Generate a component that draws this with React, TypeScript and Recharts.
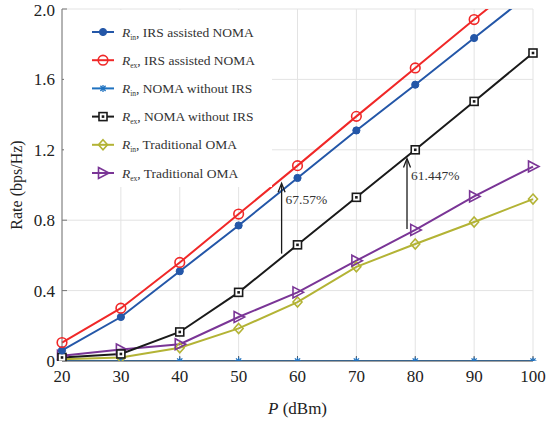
import React from "react";
import {
  LineChart,
  Line,
  XAxis,
  YAxis,
  CartesianGrid,
  Legend,
  ReferenceLine,
} from "recharts";

const powers = [20, 30, 40, 50, 60, 70, 80, 90, 100];
const rInIrsNoma = [0.06, 0.25, 0.51, 0.77, 1.04, 1.31, 1.57, 1.835, 2.1];
const rExIrsNoma = [0.105, 0.3, 0.56, 0.835, 1.11, 1.39, 1.665, 1.94, 2.21];
const rInNoIrs = [0, 0, 0, 0, 0, 0, 0, 0, 0];
const rExNoIrs = [0.02, 0.04, 0.165, 0.39, 0.66, 0.93, 1.2, 1.475, 1.75];
const rInOma = [0.01, 0.02, 0.075, 0.185, 0.335, 0.535, 0.665, 0.79, 0.92];
const rExOma = [0.03, 0.065, 0.095, 0.25, 0.39, 0.57, 0.745, 0.935, 1.105];

const xTicks = [20, 30, 40, 50, 60, 70, 80, 90, 100];
const yTicks = [0, 0.4, 0.8, 1.2, 1.6, 2.0];

// arrows for the gain annotations: [x, yFrom, yTo, label]
const arrows: [number, number, number, string][] = [
  [57.3, 0.61, 1.01, "67.57%"],
  [78.6, 0.75, 1.15, "61.447%"],
];

const data = powers.map((p, i) => ({
  p,
  inIrs: rInIrsNoma[i],
  exIrs: rExIrsNoma[i],
  inNo: rInNoIrs[i],
  exNo: rExNoIrs[i],
  inOma: rInOma[i],
  exOma: rExOma[i],
}));

const FONT = "'Liberation Serif', 'Times New Roman', serif";

type Kind = "dot" | "circle" | "star" | "square" | "diamond" | "tri";

const Marker = ({ kind, cx, cy, color }: { kind: Kind; cx: number; cy: number; color: string }) => {
  switch (kind) {
    case "dot":
      return <circle cx={cx} cy={cy} r={3.6} fill={color} stroke={color} />;
    case "circle":
      return <circle cx={cx} cy={cy} r={4.8} fill="none" stroke={color} strokeWidth={1.6} />;
    case "star":
      return (
        <g stroke={color} strokeWidth={1.3}>
          <line x1={cx - 3.5} y1={cy} x2={cx + 3.5} y2={cy} />
          <line x1={cx} y1={cy - 3.5} x2={cx} y2={cy + 3.5} />
          <line x1={cx - 2.6} y1={cy - 2.6} x2={cx + 2.6} y2={cy + 2.6} />
          <line x1={cx - 2.6} y1={cy + 2.6} x2={cx + 2.6} y2={cy - 2.6} />
        </g>
      );
    case "square":
      return (
        <g>
          <rect x={cx - 4} y={cy - 4} width={8} height={8} fill="#fff" stroke={color} strokeWidth={1.6} />
          <rect x={cx - 1.3} y={cy - 1.3} width={2.6} height={2.6} fill={color} />
        </g>
      );
    case "diamond":
      return (
        <path
          d={`M${cx},${cy - 5}L${cx + 4.5},${cy}L${cx},${cy + 5}L${cx - 4.5},${cy}Z`}
          fill="none"
          stroke={color}
          strokeWidth={1.6}
        />
      );
    case "tri":
      return (
        <path
          d={`M${cx - 4.5},${cy - 5.5}L${cx + 6},${cy}L${cx - 4.5},${cy + 5.5}Z`}
          fill="none"
          stroke={color}
          strokeWidth={1.6}
        />
      );
  }
  return null;
};

const series: { key: string; color: string; kind: Kind; sub: string; name: string }[] = [
  { key: "inIrs", color: "#2457a8", kind: "dot", sub: "in", name: ", IRS assisted NOMA" },
  { key: "exIrs", color: "#f02828", kind: "circle", sub: "ex", name: ", IRS assisted NOMA" },
  { key: "inNo", color: "#1f72c0", kind: "star", sub: "in", name: ", NOMA without IRS" },
  { key: "exNo", color: "#1a1a1a", kind: "square", sub: "ex", name: ", NOMA without IRS" },
  { key: "inOma", color: "#b3b335", kind: "diamond", sub: "in", name: ", Traditional OMA" },
  { key: "exOma", color: "#7a3596", kind: "tri", sub: "ex", name: ", Traditional OMA" },
];

const drawOrder = ["inNo", "inOma", "exOma", "exNo", "inIrs", "exIrs"];

const LegendBox = () => (
  <svg width={208} height={177} style={{ fontFamily: FONT }}>
    {series.map((s, i) => {
      const y = 22 + i * 28.2;
      return (
        <g key={s.key}>
          <line x1={28} y1={y} x2={50} y2={y} stroke={s.color} strokeWidth={2} />
          <Marker kind={s.kind} cx={39} cy={y} color={s.color} />
          <text x={58} y={y + 4.5} fontSize={13.5} fill="#333">
            <tspan fontStyle="italic">R</tspan>
            <tspan fontSize={7.5} dy={3}>{s.sub}</tspan>
            <tspan dy={-3}>{s.name}</tspan>
          </text>
        </g>
      );
    })}
  </svg>
);

const arrowShape = (label: string) => (props: any) => {
  const { x1, y1, x2, y2 } = props;
  return (
    <g>
      <line x1={x1} y1={y1} x2={x2} y2={y2 + 2} stroke="#1a1a1a" strokeWidth={1.3} />
      <path d={`M${x2 - 3.5},${y2 + 9}L${x2},${y2}L${x2 + 3.5},${y2 + 9}`} fill="none" stroke="#1a1a1a" strokeWidth={1.3} />
      <text x={x2 + 4} y={y2 + 21} fontSize={13.5} fill="#333" style={{ fontFamily: FONT }}>
        {label}
      </text>
    </g>
  );
};

const XLabel = (props: any) => {
  const { viewBox } = props;
  const cx = viewBox.x + viewBox.width / 2;
  return (
    <text x={cx} y={414} textAnchor="middle" fontSize={17} fill="#222" style={{ fontFamily: FONT }}>
      <tspan fontStyle="italic">P</tspan>
      <tspan> (dBm)</tspan>
    </text>
  );
};

const YLabel = (props: any) => {
  const { viewBox } = props;
  const cy = viewBox.y + viewBox.height / 2;
  return (
    <text
      x={22}
      y={cy}
      transform={`rotate(-90, 22, ${cy})`}
      textAnchor="middle"
      fontSize={16}
      fill="#222"
      style={{ fontFamily: FONT }}
    >
      Rate (bps/Hz)
    </text>
  );
};

const tickStyle = { fill: "#222", fontSize: 17, style: { fontFamily: FONT } };

export default function App() {
  return (
    <div style={{ position: "absolute", left: 0, top: 0, background: "#fff", fontFamily: FONT }}>
      <LineChart
        width={550}
        height={424}
        data={data}
        margin={{ top: 9, right: 17, bottom: 0, left: 0 }}
        style={{ fontFamily: FONT }}
      >
        <CartesianGrid stroke="#e3e3e3" strokeWidth={1} />
        <XAxis
          dataKey="p"
          type="number"
          domain={[20, 100]}
          ticks={xTicks}
          height={63}
          stroke="#555"
          tickSize={-5}
          tickMargin={14}
          tick={tickStyle}
          label={<XLabel />}
        />
        <XAxis xAxisId="top" orientation="top" type="number" domain={[20, 100]} ticks={xTicks} height={0} stroke="#555" tick={false} tickSize={-5} />
        <YAxis
          type="number"
          domain={[0, 2]}
          ticks={yTicks}
          allowDataOverflow
          width={62}
          stroke="#777"
          tickSize={-5}
          tickMargin={12}
          tickFormatter={(v: number) => (v === 0 ? "0" : v.toFixed(1))}
          tick={tickStyle}
          label={<YLabel />}
        />
        <YAxis yAxisId="right" orientation="right" type="number" domain={[0, 2]} ticks={yTicks} width={0} stroke="#555" tick={false} tickSize={-5} />
        {drawOrder.map((k) => {
          const s = series.find((x) => x.key === k)!;
          return (
            <Line
              key={s.key}
              dataKey={s.key}
              stroke={s.color}
              strokeWidth={2}
              isAnimationActive={false}
              dot={(p: any) => (
                <Marker key={`${s.key}-${p.index}`} kind={s.kind} cx={p.cx} cy={p.cy} color={s.color} />
              )}
              activeDot={false}
            />
          );
        })}
        {arrows.map(([x, a, b, label]) => (
          <ReferenceLine
            key={label}
            segment={[
              { x, y: a },
              { x, y: b },
            ]}
            shape={arrowShape(label)}
          />
        ))}
        <Legend
          layout="vertical"
          align="center"
          verticalAlign="middle"
          content={() => <LegendBox />}
          wrapperStyle={{ left: 64, top: 10, width: 208, height: 177, background: "#fff" }}
        />
      </LineChart>
    </div>
  );
}
